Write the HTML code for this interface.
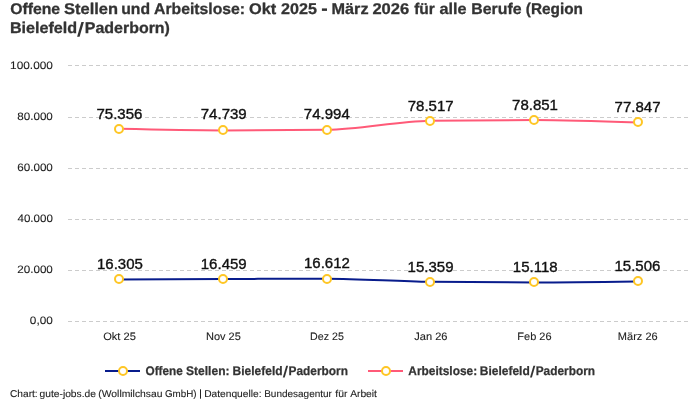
<!DOCTYPE html>
<html><head><meta charset="utf-8"><title>Chart</title>
<style>html,body{margin:0;padding:0;background:#fff;overflow:hidden}svg{display:block;will-change:transform}text{font-family:"Liberation Sans",sans-serif;white-space:pre}.g{text-rendering:geometricPrecision}</style></head><body>
<svg width="700" height="400" viewBox="0 0 700 400">
<rect width="700" height="400" fill="#ffffff"/>
<text x="10.17" y="14.35" font-size="15.5" fill="#333333" textLength="49.98" lengthAdjust="spacingAndGlyphs" font-weight="bold" stroke="#333333" stroke-width="0.3" class="g">Offene</text>
<text x="64.11" y="14.35" font-size="15.5" fill="#333333" textLength="53.90" lengthAdjust="spacingAndGlyphs" font-weight="bold" stroke="#333333" stroke-width="0.3" class="g">Stellen</text>
<text x="121.22" y="14.35" font-size="15.5" fill="#333333" textLength="28.81" lengthAdjust="spacingAndGlyphs" font-weight="bold" stroke="#333333" stroke-width="0.3" class="g">und</text>
<text x="154.01" y="14.35" font-size="15.5" fill="#333333" textLength="91.08" lengthAdjust="spacingAndGlyphs" font-weight="bold" stroke="#333333" stroke-width="0.3" class="g">Arbeitslose:</text>
<text x="248.95" y="14.35" font-size="15.5" fill="#333333" textLength="27.25" lengthAdjust="spacingAndGlyphs" font-weight="bold" stroke="#333333" stroke-width="0.3" class="g">Okt</text>
<text x="281.04" y="14.35" font-size="15.5" fill="#333333" textLength="35.84" lengthAdjust="spacingAndGlyphs" font-weight="bold" stroke="#333333" stroke-width="0.3" class="g">2025</text>
<text x="331.50" y="14.35" font-size="15.5" fill="#333333" textLength="37.08" lengthAdjust="spacingAndGlyphs" font-weight="bold" stroke="#333333" stroke-width="0.3" class="g">März</text>
<text x="372.42" y="14.35" font-size="15.5" fill="#333333" textLength="36.79" lengthAdjust="spacingAndGlyphs" font-weight="bold" stroke="#333333" stroke-width="0.3" class="g">2026</text>
<text x="414.13" y="14.35" font-size="15.5" fill="#333333" textLength="20.67" lengthAdjust="spacingAndGlyphs" font-weight="bold" stroke="#333333" stroke-width="0.3" class="g">für</text>
<text x="439.51" y="14.35" font-size="15.5" fill="#333333" textLength="27.02" lengthAdjust="spacingAndGlyphs" font-weight="bold" stroke="#333333" stroke-width="0.3" class="g">alle</text>
<text x="471.33" y="14.35" font-size="15.5" fill="#333333" textLength="50.19" lengthAdjust="spacingAndGlyphs" font-weight="bold" stroke="#333333" stroke-width="0.3" class="g">Berufe</text>
<text x="525.83" y="14.35" font-size="15.5" fill="#333333" textLength="57.12" lengthAdjust="spacingAndGlyphs" font-weight="bold" stroke="#333333" stroke-width="0.3" class="g">(Region</text>
<text x="9.91" y="33.35" font-size="15.5" fill="#333333" textLength="67.25" lengthAdjust="spacingAndGlyphs" font-weight="bold" stroke="#333333" stroke-width="0.3" class="g">Bielefeld</text>
<text x="84.82" y="33.35" font-size="15.5" fill="#333333" textLength="85.10" lengthAdjust="spacingAndGlyphs" font-weight="bold" stroke="#333333" stroke-width="0.3" class="g">Paderborn)</text>
<polygon points="77.10,36.70 79.60,36.70 83.90,21.90 81.40,21.90" fill="#333333"/>
<rect x="321.9" y="8.4" width="5.1" height="2.5" fill="#333333"/>
<line x1="68" x2="690" y1="65.5" y2="65.5" stroke="#cccccc" stroke-width="1" stroke-dasharray="4 3" shape-rendering="crispEdges"/>
<line x1="68" x2="690" y1="117.5" y2="117.5" stroke="#cccccc" stroke-width="1" stroke-dasharray="4 3" shape-rendering="crispEdges"/>
<line x1="68" x2="690" y1="168.5" y2="168.5" stroke="#cccccc" stroke-width="1" stroke-dasharray="4 3" shape-rendering="crispEdges"/>
<line x1="68" x2="690" y1="219.5" y2="219.5" stroke="#cccccc" stroke-width="1" stroke-dasharray="4 3" shape-rendering="crispEdges"/>
<line x1="68" x2="690" y1="270.5" y2="270.5" stroke="#cccccc" stroke-width="1" stroke-dasharray="4 3" shape-rendering="crispEdges"/>
<line x1="68" x2="690" y1="321.5" y2="321.5" stroke="#cccccc" stroke-width="1" stroke-dasharray="4 3" shape-rendering="crispEdges"/>
<text x="10.11" y="68.70" font-size="10.8" fill="#222222" textLength="42.76" lengthAdjust="spacingAndGlyphs" stroke="#222222" stroke-width="0.1" class="g">100.000</text>
<text x="17.31" y="119.75" font-size="10.8" fill="#222222" textLength="35.54" lengthAdjust="spacingAndGlyphs" stroke="#222222" stroke-width="0.1" class="g">80.000</text>
<text x="17.22" y="170.90" font-size="10.8" fill="#222222" textLength="35.63" lengthAdjust="spacingAndGlyphs" stroke="#222222" stroke-width="0.1" class="g">60.000</text>
<text x="17.54" y="221.90" font-size="10.8" fill="#222222" textLength="35.31" lengthAdjust="spacingAndGlyphs" stroke="#222222" stroke-width="0.1" class="g">40.000</text>
<text x="17.22" y="272.90" font-size="10.8" fill="#222222" textLength="35.63" lengthAdjust="spacingAndGlyphs" stroke="#222222" stroke-width="0.1" class="g">20.000</text>
<text x="29.83" y="323.80" font-size="10.8" fill="#222222" textLength="22.93" lengthAdjust="spacingAndGlyphs" stroke="#222222" stroke-width="0.1" class="g">0,00</text>
<text x="103.17" y="339.75" font-size="10.8" fill="#222222" textLength="32.78" lengthAdjust="spacingAndGlyphs" stroke="#222222" stroke-width="0.1" class="g">Okt 25</text>
<text x="205.99" y="339.75" font-size="10.8" fill="#222222" textLength="34.86" lengthAdjust="spacingAndGlyphs" stroke="#222222" stroke-width="0.1" class="g">Nov 25</text>
<text x="310.12" y="339.75" font-size="10.8" fill="#222222" textLength="33.82" lengthAdjust="spacingAndGlyphs" stroke="#222222" stroke-width="0.1" class="g">Dez 25</text>
<text x="414.23" y="339.75" font-size="10.8" fill="#222222" textLength="33.24" lengthAdjust="spacingAndGlyphs" stroke="#222222" stroke-width="0.1" class="g">Jan 26</text>
<text x="517.39" y="339.75" font-size="10.8" fill="#222222" textLength="34.18" lengthAdjust="spacingAndGlyphs" stroke="#222222" stroke-width="0.1" class="g">Feb 26</text>
<text x="617.89" y="339.75" font-size="10.8" fill="#222222" textLength="39.80" lengthAdjust="spacingAndGlyphs" stroke="#222222" stroke-width="0.1" class="g">März 26</text>
<path d="M118.92,128.84 C153.53,129.63 188.14,130.42 222.75,130.42 C257.36,130.42 291.97,130.20 326.58,129.77 C361.19,129.33 395.81,121.35 430.42,120.78 C465.03,120.21 499.64,119.93 534.25,119.93 C568.86,119.93 603.47,121.21 638.08,122.49" fill="none" stroke="#ff5a78" stroke-width="2" stroke-linejoin="round"/>
<circle cx="119" cy="129" r="4" fill="#fff" stroke="#fec625" stroke-width="2"/>
<circle cx="223" cy="130" r="4" fill="#fff" stroke="#fec625" stroke-width="2"/>
<circle cx="327" cy="130" r="4" fill="#fff" stroke="#fec625" stroke-width="2"/>
<circle cx="430" cy="121" r="4" fill="#fff" stroke="#fec625" stroke-width="2"/>
<circle cx="534" cy="120" r="4" fill="#fff" stroke="#fec625" stroke-width="2"/>
<circle cx="638" cy="122" r="4" fill="#fff" stroke="#fec625" stroke-width="2"/>
<path d="M118.92,279.42 C153.53,279.29 188.14,279.16 222.75,279.03 C257.36,278.90 291.97,278.64 326.58,278.64 C361.19,278.64 395.81,281.42 430.42,281.83 C465.03,282.24 499.64,282.45 534.25,282.45 C568.86,282.45 603.47,281.95 638.08,281.46" fill="none" stroke="#081c8c" stroke-width="2" stroke-linejoin="round"/>
<circle cx="119" cy="279" r="4" fill="#fff" stroke="#fec625" stroke-width="2"/>
<circle cx="223" cy="279" r="4" fill="#fff" stroke="#fec625" stroke-width="2"/>
<circle cx="327" cy="279" r="4" fill="#fff" stroke="#fec625" stroke-width="2"/>
<circle cx="430" cy="282" r="4" fill="#fff" stroke="#fec625" stroke-width="2"/>
<circle cx="534" cy="282" r="4" fill="#fff" stroke="#fec625" stroke-width="2"/>
<circle cx="638" cy="281" r="4" fill="#fff" stroke="#fec625" stroke-width="2"/>
<text x="96.49" y="118.70" font-size="14" fill="#111111" textLength="45.92" lengthAdjust="spacingAndGlyphs" stroke="#111111" stroke-width="0.35">75.356</text>
<text x="200.77" y="119.30" font-size="14" fill="#111111" textLength="45.92" lengthAdjust="spacingAndGlyphs" stroke="#111111" stroke-width="0.35">74.739</text>
<text x="303.86" y="119.30" font-size="14" fill="#111111" textLength="45.92" lengthAdjust="spacingAndGlyphs" stroke="#111111" stroke-width="0.35">74.994</text>
<text x="407.70" y="110.80" font-size="14" fill="#111111" textLength="45.92" lengthAdjust="spacingAndGlyphs" stroke="#111111" stroke-width="0.35">78.517</text>
<text x="512.06" y="109.50" font-size="14" fill="#111111" textLength="45.92" lengthAdjust="spacingAndGlyphs" stroke="#111111" stroke-width="0.35">78.851</text>
<text x="614.60" y="111.50" font-size="14" fill="#111111" textLength="45.92" lengthAdjust="spacingAndGlyphs" stroke="#111111" stroke-width="0.35">77.847</text>
<text x="96.95" y="268.65" font-size="14" fill="#111111" textLength="45.92" lengthAdjust="spacingAndGlyphs" stroke="#111111" stroke-width="0.35">16.305</text>
<text x="200.77" y="268.65" font-size="14" fill="#111111" textLength="45.92" lengthAdjust="spacingAndGlyphs" stroke="#111111" stroke-width="0.35">16.459</text>
<text x="304.00" y="268.40" font-size="14" fill="#111111" textLength="45.92" lengthAdjust="spacingAndGlyphs" stroke="#111111" stroke-width="0.35">16.612</text>
<text x="407.62" y="271.80" font-size="14" fill="#111111" textLength="45.92" lengthAdjust="spacingAndGlyphs" stroke="#111111" stroke-width="0.35">15.359</text>
<text x="512.86" y="271.80" font-size="14" fill="#111111" textLength="44.80" lengthAdjust="spacingAndGlyphs" stroke="#111111" stroke-width="0.35">15.118</text>
<text x="614.49" y="270.50" font-size="14" fill="#111111" textLength="45.92" lengthAdjust="spacingAndGlyphs" stroke="#111111" stroke-width="0.35">15.506</text>
<line x1="105" x2="140" y1="371" y2="371" stroke="#081c8c" stroke-width="2"/>
<circle cx="123" cy="371" r="4" fill="#fff" stroke="#fec625" stroke-width="2"/>
<line x1="368" x2="403" y1="371" y2="371" stroke="#ff5a78" stroke-width="2"/>
<circle cx="386" cy="371" r="4" fill="#fff" stroke="#fec625" stroke-width="2"/>
<text x="145.53" y="375.35" font-size="12.4" fill="#333333" textLength="37.28" lengthAdjust="spacingAndGlyphs" font-weight="bold" stroke="#333333" stroke-width="0.25" class="g">Offene</text>
<text x="186.04" y="375.35" font-size="12.4" fill="#333333" textLength="43.50" lengthAdjust="spacingAndGlyphs" font-weight="bold" stroke="#333333" stroke-width="0.25" class="g">Stellen:</text>
<text x="232.59" y="375.35" font-size="12.4" fill="#333333" textLength="50.00" lengthAdjust="spacingAndGlyphs" font-weight="bold" stroke="#333333" stroke-width="0.25" class="g">Bielefeld</text>
<text x="288.50" y="375.35" font-size="12.4" fill="#333333" textLength="59.43" lengthAdjust="spacingAndGlyphs" font-weight="bold" stroke="#333333" stroke-width="0.25" class="g">Paderborn</text>
<text x="408.30" y="375.35" font-size="12.4" fill="#333333" textLength="68.82" lengthAdjust="spacingAndGlyphs" font-weight="bold" stroke="#333333" stroke-width="0.25" class="g">Arbeitslose:</text>
<text x="479.79" y="375.35" font-size="12.4" fill="#333333" textLength="50.00" lengthAdjust="spacingAndGlyphs" font-weight="bold" stroke="#333333" stroke-width="0.25" class="g">Bielefeld</text>
<text x="535.70" y="375.35" font-size="12.4" fill="#333333" textLength="59.43" lengthAdjust="spacingAndGlyphs" font-weight="bold" stroke="#333333" stroke-width="0.25" class="g">Paderborn</text>
<polygon points="282.80,377.60 284.70,377.60 288.10,365.80 286.20,365.80" fill="#333333"/>
<polygon points="530.00,377.60 531.90,377.60 535.30,365.80 533.40,365.80" fill="#333333"/>
<text x="9.99" y="396.70" font-size="9.9" fill="#222222" textLength="27.73" lengthAdjust="spacingAndGlyphs" stroke="#222222" stroke-width="0.1" class="g">Chart:</text>
<text x="39.56" y="396.70" font-size="9.9" fill="#222222" textLength="56.39" lengthAdjust="spacingAndGlyphs" stroke="#222222" stroke-width="0.1" class="g">gute-jobs.de</text>
<text x="98.35" y="396.70" font-size="9.9" fill="#222222" textLength="64.12" lengthAdjust="spacingAndGlyphs" stroke="#222222" stroke-width="0.1" class="g">(Wollmilchsau</text>
<text x="165.01" y="396.70" font-size="9.9" fill="#222222" textLength="31.58" lengthAdjust="spacingAndGlyphs" stroke="#222222" stroke-width="0.1" class="g">GmbH)</text>
<text x="204.16" y="396.70" font-size="9.9" fill="#222222" textLength="57.37" lengthAdjust="spacingAndGlyphs" stroke="#222222" stroke-width="0.1" class="g">Datenquelle:</text>
<text x="264.18" y="396.70" font-size="9.9" fill="#222222" textLength="67.78" lengthAdjust="spacingAndGlyphs" stroke="#222222" stroke-width="0.1" class="g">Bundesagentur</text>
<text x="335.34" y="396.70" font-size="9.9" fill="#222222" textLength="12.11" lengthAdjust="spacingAndGlyphs" stroke="#222222" stroke-width="0.1" class="g">für</text>
<text x="350.17" y="396.70" font-size="9.9" fill="#222222" textLength="26.80" lengthAdjust="spacingAndGlyphs" stroke="#222222" stroke-width="0.1" class="g">Arbeit</text>
<rect x="200" y="389.3" width="1" height="9.4" fill="#222222"/>
</svg></body></html>
